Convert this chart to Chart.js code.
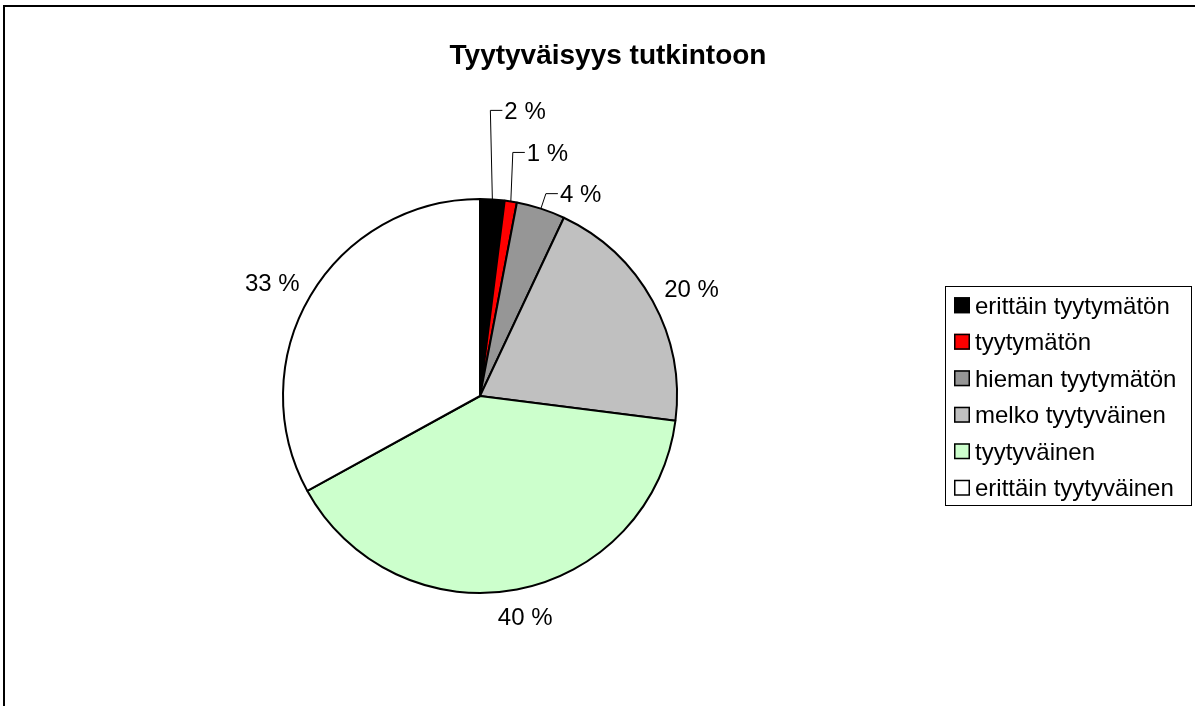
<!DOCTYPE html>
<html>
<head>
<meta charset="utf-8">
<script src="https://cdn.jsdelivr.net/npm/chart.js@4.4.0/dist/chart.umd.min.js"></script>
<style>
  html, body { margin: 0; padding: 0; background: #ffffff; }
  #wrap { position: relative; width: 1195px; height: 706px; }
</style>
</head>
<body>
<div id="wrap"><canvas id="c" width="1195" height="706"></canvas></div>
<script>
// ---- data ----
const chartTitle = "Tyytyväisyys tutkintoon";
const categories = ["erittäin tyytymätön", "tyytymätön", "hieman tyytymätön", "melko tyytyväinen", "tyytyväinen", "erittäin tyytyväinen"];
const values = [2, 1, 4, 20, 40, 33];
const sliceColors = ["#000000", "#FF0000", "#969696", "#C0C0C0", "#CCFFCC", "#FFFFFF"];

// ---- layout / style (not data) ----
const FONT = '"Liberation Sans", Arial, sans-serif';
const labelFontSize = 24;
const legendFontSize = 24;
// leader-line elbow offsets for small slices, relative to the slice's edge midpoint
const leaderElbows = { 0: [-2, -89], 1: [2, -49], 2: [5, -15] };

const framePlugin = {
  id: 'frame',
  beforeDraw(chart) {
    const ctx = chart.ctx;
    ctx.save();
    ctx.fillStyle = '#ffffff';
    ctx.fillRect(0, 0, chart.width, chart.height);
    ctx.strokeStyle = '#000000';
    ctx.lineWidth = 2;
    ctx.beginPath();
    ctx.moveTo(4, chart.height + 2);
    ctx.lineTo(4, 6);
    ctx.lineTo(chart.width + 2, 6);
    ctx.stroke();
    // title
    ctx.fillStyle = '#000000';
    ctx.font = 'bold 28px ' + FONT;
    ctx.textAlign = 'center';
    ctx.textBaseline = 'alphabetic';
    ctx.fillText(chartTitle, 608, 64);
    ctx.restore();
  }
};

const labelPlugin = {
  id: 'pieLabels',
  afterDatasetsDraw(chart) {
    const ctx = chart.ctx;
    const meta = chart.getDatasetMeta(0);
    const total = values.reduce((a, b) => a + b, 0);
    ctx.save();
    ctx.font = labelFontSize + 'px ' + FONT;
    ctx.fillStyle = '#000000';
    ctx.textBaseline = 'alphabetic';
    const capHalf = labelFontSize * 0.716 / 2;
    meta.data.forEach((arc, i) => {
      const p = arc.getProps(['x', 'y', 'startAngle', 'endAngle', 'outerRadius'], true);
      const mid = (p.startAngle + p.endAngle) / 2;
      const ux = Math.cos(mid), uy = Math.sin(mid);
      const text = Math.round(values[i] / total * 100) + ' %';
      const w = ctx.measureText(text).width;
      if (leaderElbows[i]) {
        const ex = p.x + p.outerRadius * ux;
        const ey = p.y + p.outerRadius * uy;
        const bx = ex + leaderElbows[i][0];
        const by = ey + leaderElbows[i][1];
        ctx.strokeStyle = '#000000';
        ctx.lineWidth = 1;
        ctx.beginPath();
        ctx.moveTo(ex, ey);
        ctx.lineTo(bx, by);
        ctx.lineTo(bx + 12, by);
        ctx.stroke();
        ctx.textAlign = 'left';
        ctx.fillText(text, bx + 14, by + capHalf);
      } else {
        const g = 17;
        const halfW = w / 2, halfH = 10;
        const cx = p.x + (p.outerRadius + g) * ux + halfW * ux;
        const cy = p.y + (p.outerRadius + g) * uy + halfH * uy;
        ctx.textAlign = 'center';
        ctx.fillText(text, cx, cy + capHalf);
      }
    });
    ctx.restore();
  }
};

const legendPlugin = {
  id: 'boxLegend',
  afterDraw(chart) {
    const ctx = chart.ctx;
    const bx = 945, by = 286, bw = 246, bh = 219;
    ctx.save();
    ctx.strokeStyle = '#000000';
    ctx.lineWidth = 1;
    ctx.strokeRect(bx + 0.5, by + 0.5, bw, bh);
    const step = bh / categories.length;
    ctx.font = legendFontSize + 'px ' + FONT;
    ctx.textAlign = 'left';
    ctx.textBaseline = 'alphabetic';
    categories.forEach((name, i) => {
      const cy = by + step * (i + 0.5) + 1;
      ctx.fillStyle = sliceColors[i];
      ctx.fillRect(bx + 9, cy - 8, 16, 16);
      ctx.strokeStyle = '#000000';
      ctx.lineWidth = 1.5;
      ctx.strokeRect(bx + 9.75, cy - 7.25, 14.5, 14.5);
      ctx.fillStyle = '#000000';
      ctx.fillText(name, bx + 30, cy + 8.5);
    });
    ctx.restore();
  }
};

new Chart(document.getElementById('c'), {
  type: 'pie',
  data: {
    labels: categories,
    datasets: [{
      data: values,
      backgroundColor: sliceColors,
      borderColor: '#000000',
      borderWidth: 2,
      hoverOffset: 0
    }]
  },
  options: {
    responsive: false,
    animation: false,
    events: [],
    layout: { padding: { left: 282, right: 517, top: 198, bottom: 112 } },
    plugins: {
      legend: { display: false },
      title: { display: false },
      tooltip: { enabled: false }
    }
  },
  plugins: [framePlugin, labelPlugin, legendPlugin]
});
</script>
</body>
</html>
